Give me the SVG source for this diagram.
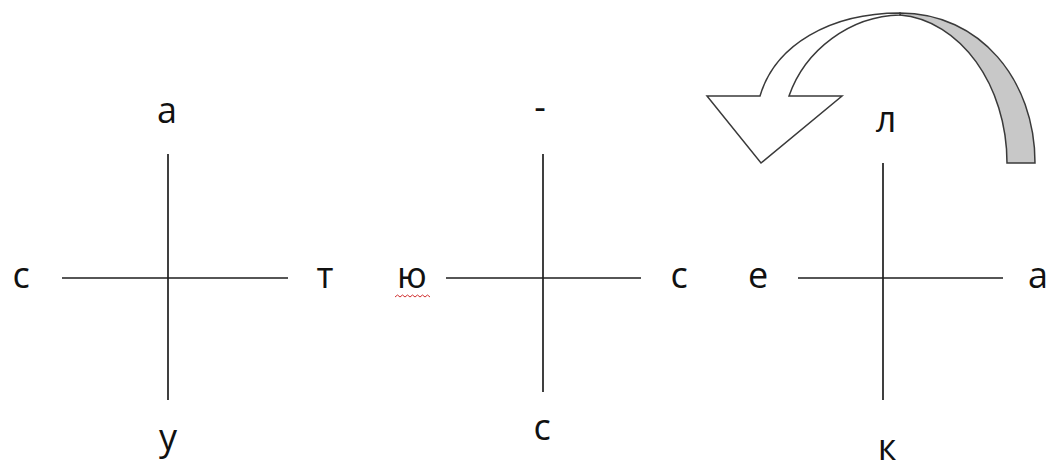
<svg xmlns="http://www.w3.org/2000/svg" width="1050" height="469" viewBox="0 0 1050 469">
<style>
.ax{stroke:#1e1e1e;stroke-width:1.7;fill:none}
.lb{font-family:"Open Sans","Liberation Sans",sans-serif;font-size:36px;fill:#111;text-anchor:middle}
.sh{stroke:#3a3a3a;stroke-width:1.5;stroke-linejoin:miter}
</style>
<rect width="1050" height="469" fill="#fff"/>
<g id="cross1">
<line class="ax" x1="168" y1="154" x2="168" y2="400"/>
<line class="ax" x1="62" y1="278" x2="288" y2="278"/>
<text class="lb" x="167" y="123">а</text>
<text class="lb" x="21" y="288">с</text>
<text class="lb" x="325" y="288">т</text>
<text class="lb" x="168" y="450">у</text>
</g>
<g id="cross2">
<line class="ax" x1="543" y1="154" x2="543" y2="392"/>
<line class="ax" x1="446" y1="278" x2="641" y2="278"/>
<text class="lb" x="540" y="120">-</text>
<text class="lb" x="412" y="288">ю</text>
<polyline points="395,297 397.5,295 400,297 402.5,295 405,297 407.5,295 410,297 412.5,295 415,297 417.5,295 420,297 422.5,295 425,297 427.5,295 430,297" fill="none" stroke="#d03030" stroke-width="1"/>
<text class="lb" x="679" y="288">с</text>
<text class="lb" x="542" y="440">с</text>
</g>
<g id="cross3">
<line class="ax" x1="883" y1="163" x2="883" y2="400"/>
<line class="ax" x1="798" y1="278" x2="1003" y2="278"/>
<text class="lb" x="886" y="132">л</text>
<text class="lb" x="758" y="288">е</text>
<text class="lb" x="1038" y="288">а</text>
<text class="lb" x="887" y="460">к</text>
</g>
<g id="connectors">
<path class="sh" fill="#c8c8c8" d="M900,13 C980,13 1035,80 1035,163 L1007,163 C1007,85 960,20 900,15 Z"/>
<path class="sh" fill="#fff" d="M900,13 C830,13 775,45 760,96 L707,96 L761,163 L842,96 L789,96 C805,50 850,16 900,15 Z"/>
</g>
</svg>
